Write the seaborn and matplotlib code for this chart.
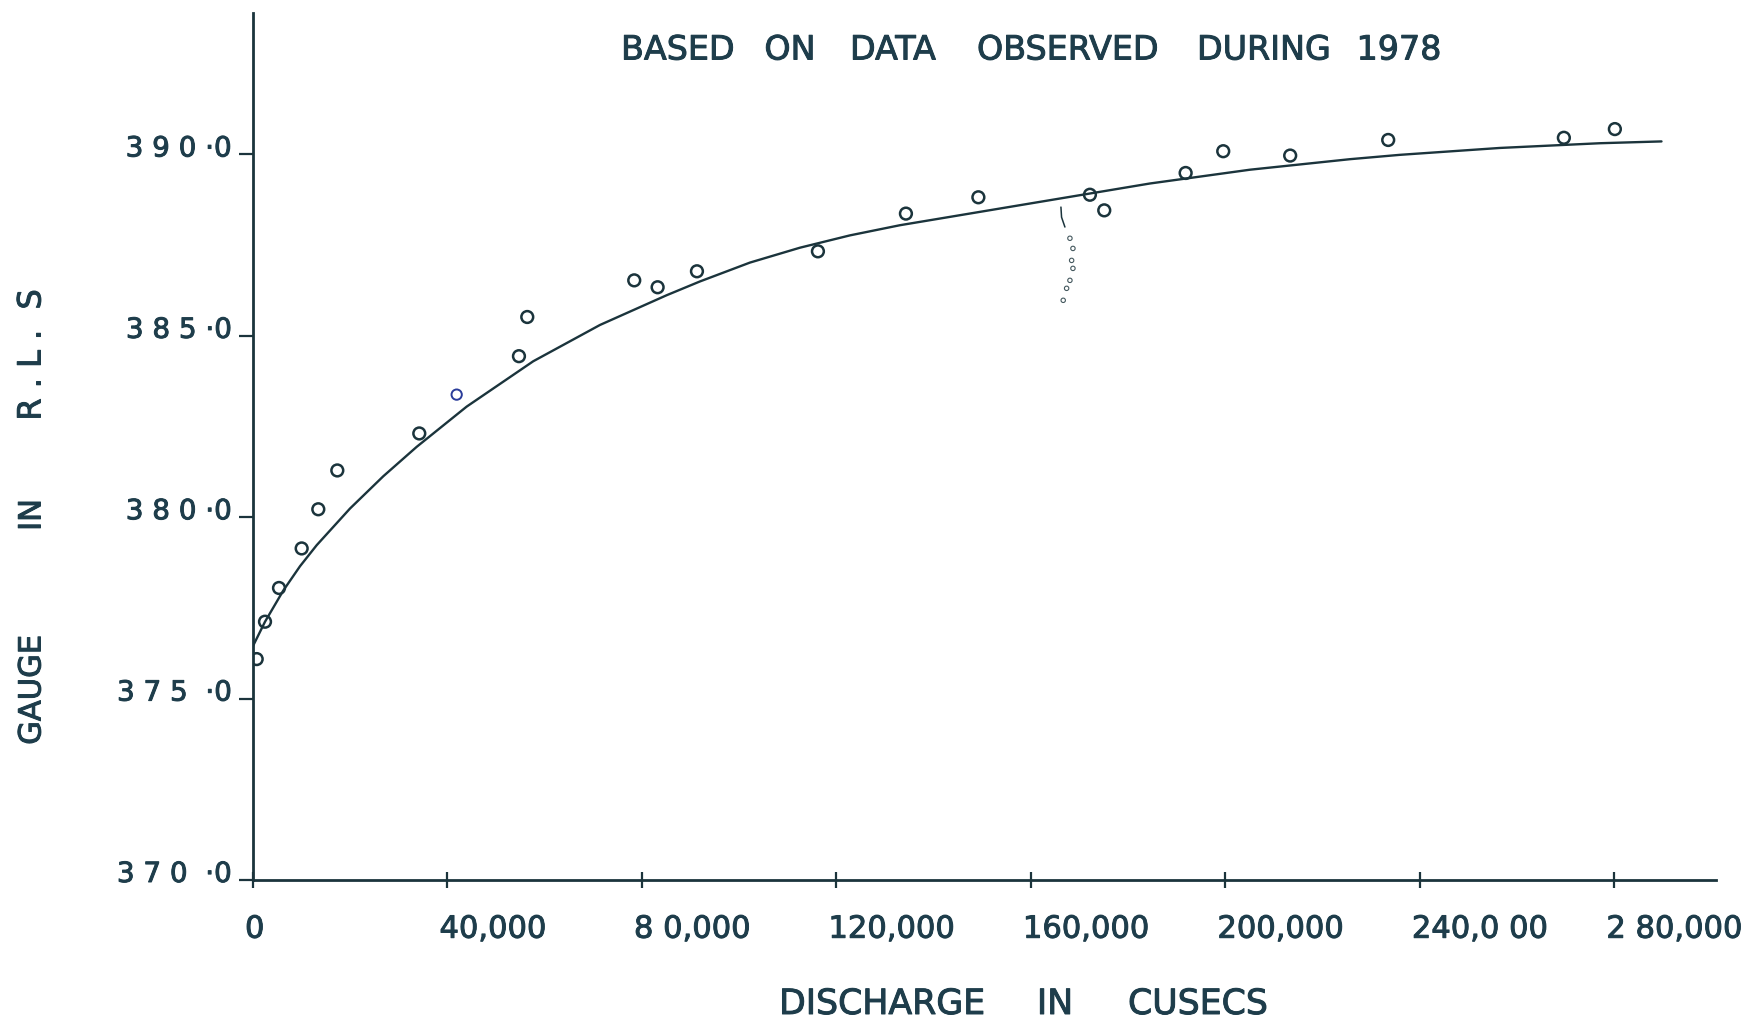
import matplotlib
matplotlib.use("Agg")
import matplotlib.pyplot as plt
import matplotlib.transforms as mtransforms
import matplotlib.patheffects as pe
import seaborn as sns

# observed points: discharge (cusecs) vs gauge (R.L.), 1978
obs_q = [760, 2470, 5350, 10010, 13430, 17340, 34200, 54700, 56410, 78410,
         83220, 91310, 116190, 134290, 149190, 172130, 175080, 191820,
         199550, 213320, 233480, 269610, 280100]
obs_g = [376.09, 377.12, 378.05, 379.14, 380.22, 381.29, 382.31, 384.44,
         385.52, 386.53, 386.34, 386.78, 387.33, 388.37, 388.82, 388.89,
         388.46, 389.49, 390.09, 389.97, 390.40, 390.46, 390.70]

# the one point inked in blue on the sheet
blue_q = [41890]
blue_g = [383.38]

# hand drawn rating curve, traced
curve_q = [0, 2470, 6230, 9670, 13100, 19950, 26800, 33660, 43950, 57640,
           71360, 85080, 91930, 102210, 112490, 122780, 133060, 143340,
           153620, 163910, 184470, 205040, 225600, 235880, 256450, 277020,
           289690]
curve_g = [376.45, 377.12, 377.98, 378.65, 379.23, 380.24, 381.13, 381.94,
           383.05, 384.30, 385.30, 386.12, 386.50, 387.02, 387.43, 387.77,
           388.05, 388.28, 388.51, 388.74, 389.20, 389.58, 389.87, 389.99,
           390.18, 390.31, 390.36]

# stray pencil mark below the curve near 166,000
mark_q = [166170, 166300, 166990]
mark_g = [388.55, 388.27, 388.00]
speck_q = [168020, 168640, 168370, 168640, 168020, 167340, 166640]
speck_g = [387.69, 387.41, 387.08, 386.86, 386.53, 386.31, 385.98]

x_ticks = [0, 40000, 80000, 120000, 160000, 200000, 240000, 280000]
x_labels = ["0", "40,000", "8 0,000", "120,000", "160,000", "200,000",
            "240,0 00", "2 80,000"]
y_ticks = [370, 375, 380, 385, 390]
y_labels = ["3 7 0  ·0", "3 7 5  ·0", "3 8 0 ·0", "3 8 5 ·0", "3 9 0 ·0"]

title_words = ["BASED", "ON", "DATA", "OBSERVED", "DURING", "1978"]

INK = "#1b343c"
TXT = "#1e3d4b"
# typed lettering on the scan is a bit heavier than plain DejaVu
HEAVY = [pe.withStroke(linewidth=0.7, foreground=TXT)]

sns.set_style("ticks")
plt.rcParams["font.family"] = ["DejaVu Sans"]

W, H = 1755, 1022
fig = plt.figure(figsize=(W / 100, H / 100), dpi=100)
ax = fig.add_axes([253 / W, 142 / H, (1716 - 253) / W, (1009 - 142) / H])

sns.lineplot(x=curve_q, y=curve_g, ax=ax, color=INK, linewidth=1.7,
             estimator=None, sort=False)
sns.scatterplot(x=obs_q, y=obs_g, ax=ax, marker="o", s=72,
                facecolors="none", edgecolor=INK, linewidth=1.8, zorder=3)
sns.scatterplot(x=blue_q, y=blue_g, ax=ax, marker="o", s=55,
                facecolors="none", edgecolor="#2a3c9a", linewidth=1.4, zorder=3)
sns.lineplot(x=mark_q, y=mark_g, ax=ax, color=INK, linewidth=1.1,
             estimator=None, sort=False)
sns.scatterplot(x=speck_q, y=speck_g, ax=ax, marker="o", s=10,
                facecolors="none", edgecolor="#44585e", linewidth=0.8)

ax.set_xlim(0, 300900)
ax.set_ylim(370, 393.9)

sns.despine(ax=ax)
for side in ["left", "bottom"]:
    ax.spines[side].set_color(INK)
    ax.spines[side].set_linewidth(2.0)

ax.set_xticks(x_ticks)
ax.set_xticklabels(x_labels)
ax.set_yticks(y_ticks)
ax.set_yticklabels(y_labels)

ax.tick_params(axis="x", direction="inout", length=12, width=1.6,
               color=INK, labelsize=22, labelcolor=TXT, pad=19)
ax.tick_params(axis="y", direction="out", length=10, width=1.6,
               color=INK, labelsize=20, labelcolor=TXT, pad=5)

dx = mtransforms.ScaledTranslation(-8 / 100, 0, fig.dpi_scale_trans)
for lab in ax.get_xticklabels():
    lab.set_horizontalalignment("left")
    lab.set_transform(lab.get_transform() + dx)
    lab.set_path_effects(HEAVY)
dy = mtransforms.ScaledTranslation(0, 9 / 100, fig.dpi_scale_trans)
for lab in ax.get_yticklabels():
    lab.set_transform(lab.get_transform() + dy)
    lab.set_path_effects(HEAVY)

ax.set_xlabel("")
ax.set_ylabel("")


def put(text, x, y, size, rot=0):
    fig.text(x / W, 1 - y / H, text, ha="center", va="center",
             fontsize=size, color=TXT, rotation=rot, path_effects=HEAVY)


# title words are spread out like the typed original
for word, cx in zip(title_words, [678, 790, 893, 1068, 1264, 1399]):
    put(word, cx, 50, 24)

put("DISCHARGE", 882, 1004, 25)
put("IN", 1055, 1004, 25)
put("CUSECS", 1198, 1004, 25)

put("GAUGE", 32, 690, 22, rot=90)
put("IN", 32, 515, 22, rot=90)
put("R . L .  S", 32, 355, 23, rot=90)

fig.savefig("out.png", dpi=100)
